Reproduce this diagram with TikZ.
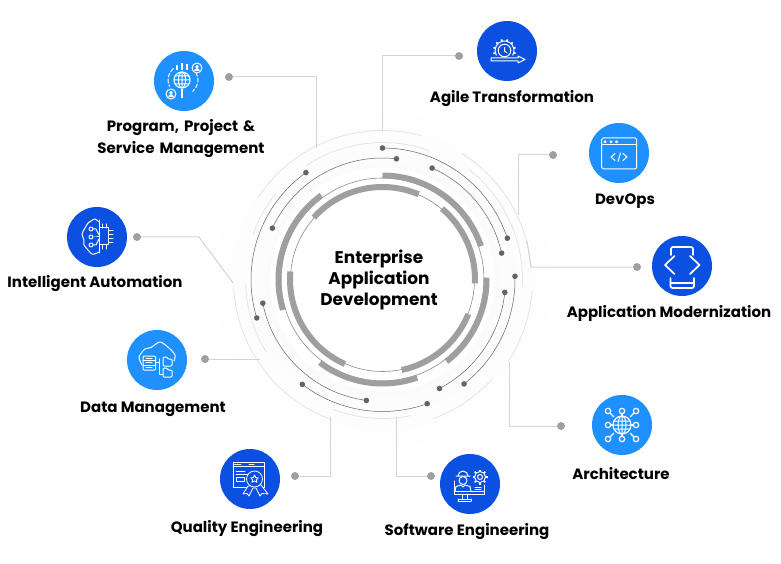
\documentclass[tikz,border=0pt]{standalone}
\usepackage{fontspec}
\setmainfont{Poppins}
\usetikzlibrary{calc}
\definecolor{bluelight}{HTML}{1E90FF}
\definecolor{bluedark}{HTML}{0B50E0}
\definecolor{ringgrey}{HTML}{9F9F9F}
\definecolor{ringthin}{HTML}{8C8C8C}
\definecolor{ringdot}{HTML}{646464}
\definecolor{ringfaint}{HTML}{E2E2E2}
\definecolor{linkgrey}{HTML}{D4D4D4}
\definecolor{enddotgrey}{HTML}{A0A0A0}
\tikzset{
  lightdisc/.style={circle, fill=bluelight, minimum size=60pt, inner sep=0},
  darkdisc/.style={circle, fill=bluedark, minimum size=60pt, inner sep=0},
  title/.style={font=\bfseries\fontsize{15}{17}\selectfont, text=black, align=center, inner sep=0},
  enddot/.style={circle, fill=enddotgrey, minimum size=8pt, inner sep=0},
  arcdot/.style={circle, fill=ringdot, minimum size=5.6pt, inner sep=0},
  link/.style={linkgrey, line width=1pt},
  iconline/.style={white, line width=1pt, line join=round, line cap=round},
  iconfat/.style={white, line width=1.7pt, line join=round, line cap=round},
}

\begin{document}
\begin{tikzpicture}[x=1pt, y=1pt]
\useasboundingbox (0,0) rectangle (781,563);
\coordinate (hub) at (382.5,283.5);

% ---- soft halo behind the rings
\shade[inner color=black!4, outer color=white] (hub) circle[radius=178];
\fill[white] (hub) circle[radius=112];

% ---- faint outer arcs
\foreach \r/\a/\b in {149/5/58, 149/75/147, 149/183/250, 148/290/318, 150/327/356,
                      137/70/124, 137/141/161, 137/182/212, 139/249/282, 140/-3/52}
  \draw[ringfaint, line width=0.7pt] (hub) ++(\a:\r) arc[start angle=\a, end angle=\b, radius=\r];

% ============================================== connectors
\node[enddot] (progdot) at (229,486) {};
\coordinate (progbend) at (316,486);
\coordinate (progend) at (316,415);
\draw[link] (progdot) -- (progbend) -- (progend);
\node[enddot] (agiledot) at (459,507) {};
\coordinate (agilebend) at (382,507);
\coordinate (agileend) at (382,433);
\draw[link] (agiledot) -- (agilebend) -- (agileend);
\node[enddot] (devdot) at (553,408) {};
\coordinate (devbend) at (518,408);
\coordinate (devend) at (518,348);
\draw[link] (devdot) -- (devbend) -- (devend);
\node[enddot] (moddot) at (637,296) {};
\coordinate (modbend) at (531,296);
\coordinate (modend) at (527,322);
\draw[link] (moddot) -- (modbend) -- (modend);
\node[enddot] (archdot) at (561,137) {};
\coordinate (archbend) at (509,137);
\coordinate (archend) at (509,201);
\draw[link] (archdot) -- (archbend) -- (archend);
\node[enddot] (softdot) at (431,87) {};
\coordinate (softbend) at (396,87);
\coordinate (softend) at (396,146);
\draw[link] (softdot) -- (softbend) -- (softend);
\node[enddot] (qualdot) at (295,87) {};
\coordinate (qualbend) at (330,87);
\coordinate (qualend) at (330,146);
\draw[link] (qualdot) -- (qualbend) -- (qualend);
\node[enddot] (datadot) at (205,204) {};
\coordinate (dataend) at (260,204);
\draw[link] (datadot) -- (dataend);
\node[enddot] (intdot) at (137,326) {};
\coordinate (intbend) at (199,326);
\coordinate (intend) at (233,280);
\draw[link] (intdot) -- (intbend) -- (intend);

% ============================================== rings
\draw[ringthin, line width=0.6pt] (hub) circle[radius=92];
\draw[ringthin, line width=0.6pt] (hub) circle[radius=101.5];
\foreach \a/\b in {-2.4/50, 67/138, 175/246, 282/338}
  \draw[ringgrey, line width=6pt] (hub) ++(\a:92.5) arc[start angle=\a, end angle=\b, radius=92.5];
\foreach \a/\b in {18.7/90, 126/197, 233/289.5, 308/361}
  \draw[ringgrey, line width=6pt] (hub) ++(\a:104) arc[start angle=\a, end angle=\b, radius=104];

% ---- thin arcs with a dot at each end
\foreach \n/\r/\a/\b in {a/131.5/18.3/90, b/121.5/83.4/155, c/131.5/125.6/197, d/122/12.5/66,
                         e/132.5/-52/1.4, f/123/-62.4/-6, g/132/-127.4/-70.2, h/122/-168.8/-97.6}{
  \draw[ringdot, line width=0.5pt] (hub) ++(\a:\r) arc[start angle=\a, end angle=\b, radius=\r];
  \node[arcdot] (dot\n1) at ($(hub)+(\a:\r)$) {};
  \node[arcdot] (dot\n2) at ($(hub)+(\b:\r)$) {};
}

% ---- centre
\node[title, font=\bfseries\fontsize{16.9}{21}\selectfont] (hubtitle) at (379,283)
  {Enterprise\\Application\\Development};

% ============================================== Program, Project
\node[lightdisc] (prog) at (184,482) {};
\node[title, text width=190pt, font=\bfseries\fontsize{15}{22}\selectfont] (progtitle) at (181,424)
  {Program, Project \&\\Service Management};
\begin{scope}[shift={(prog)}]
  \draw[iconfat, line width=1.1pt] (-2,1) circle[radius=8];
  \draw[iconline] (-2,1) ellipse[x radius=3.6, y radius=8] (-10,1) -- (6,1) (-9,5) -- (5,5) (-9,-3) -- (5,-3) (-2,-7) -- (-2,9);
  \draw[iconfat, line width=2pt, line cap=butt] (-7,11) -- (-7,16) (-2,11) -- (-2,18) (3,11) -- (3,17) (-2,-8) -- (-2,-17);
  \foreach \x/\y in {13/13, -13/-13}{
    \draw[iconline] (\x,\y) circle[radius=5];
    \fill[white] (\x,\y+1.2) circle[radius=1.9];
    \fill[white] (\x-2.8,\y-3) arc[start angle=180, end angle=0, radius=2.8] -- cycle;
  }
  \draw[iconline, dash pattern=on 4pt off 2pt] (-1,1) ++(130:15) arc[start angle=130, end angle=205, radius=15];
  \draw[iconline, dash pattern=on 4pt off 2pt] (-1,1) ++(30:15) arc[start angle=30, end angle=-50, radius=15];
\end{scope}

% ============================================== Agile Transformation
\node[darkdisc] (agile) at (507,512) {};
\node[title] (agiletitle) at (512,464.5) {Agile Transformation};
\begin{scope}[shift={(agile)}]
  \draw[iconline] (-2.5,0.5) ++(-30:9.5) arc[start angle=-30, end angle=210, radius=9.5];
  \foreach \a in {-15,15,...,195}
    \draw[iconfat, line cap=butt] (-2.5,0.5) ++(\a:9.5) -- ++(\a:2);
  \draw[iconline] (-2.5,0.5) circle[radius=6.3];
  \draw[iconline] (-2.5,3.5) -- (-2.5,0) -- (0,-2);
  \draw[iconline, fill=bluedark] (-16,-7) -- (11,-7) -- (11,-5) -- (18,-8.5) -- (11,-12) -- (11,-10) -- (-16,-10) -- cycle;
\end{scope}

% ============================================== DevOps
\node[lightdisc] (dev) at (619,410) {};
\node[title] (devtitle) at (625,361.5) {DevOps};
\begin{scope}[shift={(dev)}]
  \draw[iconline, rounded corners=1.5pt] (-17.3,15) rectangle (17.7,-16);
  \draw[iconline] (-17.3,8) -- (17.7,8);
  \foreach \x in {-14,-8,-2.5}
    \draw[iconline] (\x,11.2) circle[radius=1];
  \draw[iconline] (-4,-0.5) -- (-8,-4) -- (-4,-7.5) (4,-0.5) -- (8,-4) -- (4,-7.5) (1.5,0) -- (-1,-8.5);
\end{scope}

% ============================================== Application Modernization
\node[darkdisc] (mod) at (682,297) {};
\node[title] (modtitle) at (669,249.5) {Application Modernization};
\begin{scope}[shift={(mod)}]
  \draw[iconfat, rounded corners=2pt] (-11,11) -- (-11,19) -- (11,19) -- (11,11);
  \draw[iconfat] (-7.5,10) -- (-17,1) -- (-7.5,-8) (8,10) -- (17.5,1) -- (8,-8);
  \draw[iconfat, rounded corners=2pt] (-11.5,-12) -- (-11.5,-22) -- (12,-22) -- (12,-12);
  \draw[iconfat] (-11.5,-17) -- (12,-17);
\end{scope}

% ============================================== Architecture
\node[lightdisc] (arch) at (622,138) {};
\node[title] (archtitle) at (621,89.5) {Architecture};
\begin{scope}[shift={(arch)}]
  \foreach \x/\y in {-14/14, 0/14, 14/14, -14/0, 14/0, -14/-14, 0/-14, 14/-14}{
    \draw[iconline, line width=1.2pt] (\x,\y) circle[radius=2.7];
    \draw[iconline, line width=1.2pt] ($(0,0)!0.6!(\x,\y)$) -- ($(0,0)!0.82!(\x,\y)$);
  }
  \draw[iconline, line width=1.2pt] (0,0) circle[radius=9];
  \draw[iconline] (0,0) ellipse[x radius=4, y radius=9] (-9,0) -- (9,0) (-8,4) -- (8,4) (-8,-4) -- (8,-4) (0,-9) -- (0,9);
\end{scope}

% ============================================== Software Engineering
\node[darkdisc] (soft) at (470,79) {};
\node[title] (softtitle) at (467,31) {Software Engineering};
\begin{scope}[shift={(soft)}]
  \draw[iconline] (-16,3) -- (-16,-10) -- (14,-10) -- (14,-1) (-16,-7.5) -- (14,-7.5);
  \draw[iconline] (-8,-10) -- (-8,-15) (-3,-10) -- (-3,-15) (-12,-17) -- (1,-17) (-12,-15) -- (1,-15) (-12,-15) -- (-12,-17) (1,-15) -- (1,-17);
  \draw[iconline] (-7,3.5) circle[radius=4];
  \draw[iconline] (-12,8) arc[start angle=180, end angle=0, radius=5] (-14,8) -- (0,8);
  \draw[iconline] (-15,-7.5) -- (-14,-2.5) -- (-9,-1) -- (-7,-3) -- (-5,-1) -- (0,-2.5) -- (1,-7.5);
  \draw[iconline] (10,7) circle[radius=2.5];
  \draw[iconline] (10,7) circle[radius=5.5];
  \foreach \a in {0,45,...,315}
    \draw[iconfat, line cap=butt] (10,7) ++(\a:5.5) -- ++(\a:2);
  \draw[iconline] (5,-3) -- (11,-3) (5,-5) -- (11,-5);
\end{scope}

% ============================================== Quality Engineering
\node[darkdisc] (qual) at (250,84) {};
\node[title] (qualtitle) at (247,34) {Quality Engineering};
\begin{scope}[shift={(qual)}]
  \draw[iconline, line width=0.8pt] (-17,17) rectangle (14,-8);
  \draw[iconline, line width=0.8pt] (-17,13) -- (14,13);
  \draw[iconline, dash pattern=on 1pt off 1pt] (-15.5,15) -- (-9,15);
  \draw[iconline] (-1,15) -- (4,15);
  \draw[iconline, line width=0.8pt] (-14,8) -- (-5,8) (-14,5) -- (-1,5);
  \draw[iconline, line width=0.8pt] (-14,2) rectangle (-6,-2);
  \draw[iconline, line width=0.8pt, fill=bluedark] (-2,-7) -- (-7,-15) -- (-3,-14.5) -- (-1,-17) -- (3,-9) -- (6,-9) -- (10,-17) -- (12,-14.5) -- (18,-15) -- (11,-6) -- cycle;
  \draw[iconline, line width=0.8pt, fill=bluedark] (4.5,0) circle[radius=8];
  \draw[iconline, line width=0.8pt] (4.5,4) -- (5.7,1.4) -- (8.3,1.2) -- (6.3,-0.8) -- (7,-3.2) -- (4.5,-2) -- (2,-3.2) -- (2.7,-0.8) -- (0.7,1.2) -- (3.3,1.4) -- cycle;
\end{scope}

% ============================================== Data Management
\node[lightdisc] (data) at (157,203) {};
\node[title] (datatitle) at (153,154) {Data Management};
\begin{scope}[shift={(data)}]
  \draw[iconline] plot[smooth] coordinates {(-15,-5) (-18,3) (-12,11) (-6,12.5) (3,18) (12,12) (18,5) (17,-1)};
  \draw[iconline, rounded corners=1pt, fill=bluelight] (-14,4) rectangle (-1.5,-10);
  \draw[iconline] (-14,-0.5) -- (-1.5,-0.5) (-14,-5) -- (-1.5,-5) (-11,1.8) -- (-5,1.8) (-11,-2.8) -- (-5,-2.8) (-11,-7.5) -- (-5,-7.5);
  \draw[iconline] (-1.5,-2) -- (2,-2) (2,1) -- (2,-14) -- (6,-14);
  \draw[iconline, rounded corners=1pt, fill=bluelight] (6,1) -- (6,-6) -- (15,-6) -- (15,1) -- (11,1) -- (10,3) -- (6,3) -- cycle;
  \draw[iconline, rounded corners=1pt, fill=bluelight] (6,-10) -- (6,-17) -- (15,-17) -- (15,-10) -- (11,-10) -- (10,-8) -- (6,-8) -- cycle;
\end{scope}

% ============================================== Intelligent Automation
\node[darkdisc] (int) at (97,326) {};
\node[title] (inttitle) at (95,279.5) {Intelligent Automation};
\begin{scope}[shift={(int)}]
  \draw[iconline] plot[smooth] coordinates {(2,15) (-2,18) (-6,16) (-9,14) (-12,9) (-15,3) (-13,-3) (-13,-8) (-9,-13) (-5,-17) (-1,-16.5) (2,-15)};
  \draw[iconline] (2,17) -- (2,-16);
  \draw[iconline] (2,9) rectangle (11.5,-8);
  \foreach \y in {-6,-2,2,6}
    \draw[iconline] (11.5,\y) -- (16,\y);
  \foreach \x in {5,9}
    \draw[iconline] (\x,9) -- (\x,13) (\x,-8) -- (\x,-12);
  \foreach \y/\t in {8/2, 0/0, -8/-2}{
    \draw[iconline] (-6,\y) circle[radius=2];
    \draw[iconline] (-4,\y) -- (-1,\y) -- (2,\t);
  }
\end{scope}

\end{tikzpicture}
\end{document}
